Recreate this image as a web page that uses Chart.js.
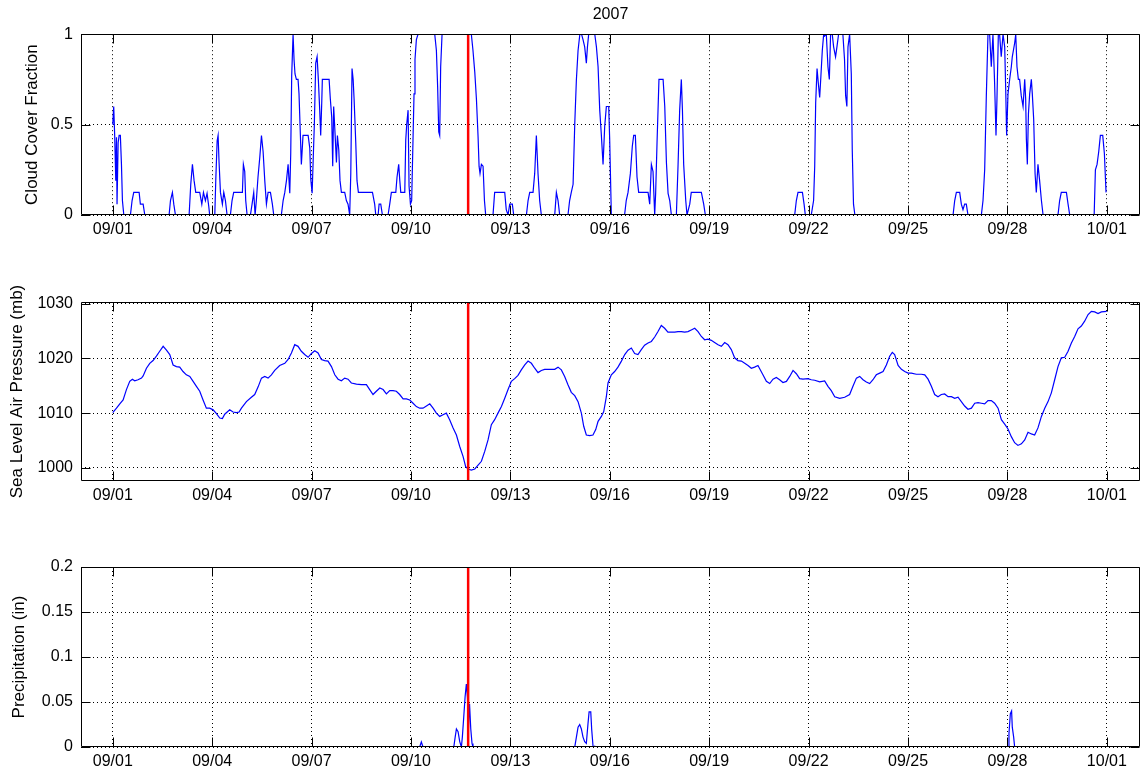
<!DOCTYPE html>
<html>
<head>
<meta charset="utf-8">
<script src="https://cdn.jsdelivr.net/npm/chart.js@4.4.0/dist/chart.umd.min.js"></script>
<style>
  html, body { margin: 0; padding: 0; background: #fff; }
  #wrap { position: relative; width: 1141px; height: 776px; overflow: hidden; }
  canvas { position: absolute; left: 0; }
</style>
</head>
<body>
<div id="wrap">
  <canvas id="cloud" width="1141" height="245" style="top:0px"></canvas>
  <canvas id="pressure" width="1141" height="249" style="top:262px"></canvas>
  <canvas id="precip" width="1141" height="249" style="top:527px"></canvas>
</div>
<script>
// hours since 09/01 00:00 (Sept 2007)
const tickHours = [0, 72, 144, 216, 288, 360, 432, 504, 576, 648, 720];
const tickLabels = ['09/01', '09/04', '09/07', '09/10', '09/13', '09/16', '09/19', '09/22', '09/25', '09/28', '10/01'];
const eventHour = 257.4; // storm marker

const cloudHours = [
  0, 0.7, 1.4, 2.2, 2.7, 3.1, 3.9, 4.6, 5.5, 6.3, 7.0, 8.0, 12.8, 14.0, 15.2, 19.1, 20.0, 22.0, 23.2,
  40.8, 41.8, 43.2, 44.2, 45.4, 55.3, 56.5, 57.7, 58.9, 60.1, 63.0, 64.5, 65.7, 67.1, 68.3, 69.5, 70.2,
  73.9, 74.6, 75.6, 76.3, 77.0, 78.0, 79.4, 80.4, 81.6, 82.8, 85.2, 86.4, 87.6, 93.9, 94.6, 95.6, 96.3, 97.3,
  99.7, 100.9, 102.1, 103.1, 104.0, 105.2, 106.5, 107.7, 108.9, 110.1, 111.3, 112.5, 114.2, 115.6, 116.6,
  122.1, 123.4, 124.6, 125.8, 127.0, 128.2, 128.9, 129.6, 130.6, 131.3, 132.0, 133.0, 134.2, 134.9, 135.9,
  136.6, 137.8, 141.5, 142.7, 143.4, 144.4, 145.1, 146.0, 147.0, 148.0, 148.9, 149.9, 150.6, 151.4, 151.8,
  156.7, 157.6, 158.6, 159.3, 160.0, 161.0, 162.0, 162.7, 163.7, 164.6, 165.6, 168.0, 169.2, 170.4, 171.6,
  172.4, 173.3, 174.1, 174.8, 176.0, 176.9, 177.9, 188.1, 189.7, 190.5, 192.2, 192.9, 194.1, 195.3,
  199.4, 200.6, 201.8, 205.0, 205.9, 207.1, 207.9, 208.6, 211.5, 212.2, 212.9, 213.9, 214.6, 215.6, 216.5,
  217.5, 218.2, 218.9, 219.9, 221.1, 233.2, 234.4, 235.3, 236.1, 236.8, 237.5, 238.5, 259.7, 260.9, 262.2,
  263.4, 264.6, 265.3, 266.0, 267.0, 268.2, 269.2, 270.1, 275.4, 276.6, 283.9, 285.0, 286.3, 287.5, 289.4,
  290.4, 299.6, 300.8, 302.0, 304.4, 305.6, 306.8, 308.0, 309.2, 310.4, 320.1, 321.3, 322.5, 323.7,
  329.7, 330.9, 332.1, 333.4, 334.6, 335.8, 337.0, 338.3, 339.5, 340.6, 341.8, 343.0, 343.8, 344.7,
  349.1, 350.3, 351.5, 352.7, 353.9, 355.1, 356.3, 357.5, 359.2, 359.9, 361.1, 370.7, 371.9, 373.2,
  374.9, 376.3, 377.3, 378.5, 379.7, 380.9, 387.7, 388.9, 390.1, 391.3, 392.5, 393.2, 394.2, 395.6,
  398.6, 399.8, 401.0, 402.2, 403.4, 404.6, 408.2, 409.4, 410.6, 411.8, 412.6, 413.5, 415.0, 415.9,
  417.9, 419.0, 426.3, 428.0, 429.2, 493.9, 495.1, 496.3, 499.5, 500.7, 501.6, 505.9, 507.6, 508.4,
  509.1, 510.1, 511.0, 512.0, 512.9, 513.9, 514.9, 515.6, 516.8, 518.0, 519.0, 519.9, 521.1, 522.1,
  523.5, 524.5, 525.7, 528.8, 530.0, 530.8, 531.7, 532.5, 533.7, 534.9, 535.6, 536.5, 537.5, 608.6,
  609.8, 611.0, 613.4, 614.6, 615.8, 617.0, 618.2, 619.4, 629.1, 630.3, 631.5, 632.7, 633.9, 635.1,
  636.3, 637.5, 638.7, 639.7, 640.4, 641.4, 642.3, 643.5, 644.8, 646.0, 646.7, 647.4, 648.4, 649.6,
  650.8, 651.5, 653.2, 654.0, 654.9, 655.9, 656.8, 658.0, 659.3, 660.5, 661.2, 661.7, 662.4, 663.2,
  664.1, 665.3, 666.0, 667.0, 668.0, 668.9, 670.1, 671.3, 672.6, 673.8, 684.6, 685.8, 687.0, 690.7,
  691.9, 693.1, 710.8, 711.7, 712.9, 714.1, 715.3, 717.0, 718.2, 719.4, 720.0
];
const cloudFraction = [
  0.5, 0.6, 0.44, 0.19, 0.43, 0.06, 0.4, 0.44, 0.44, 0.28, 0.08, 0, 0, 0.08, 0.125, 0.125, 0.06, 0.06, 0,
  0, 0.08, 0.125, 0.06, 0, 0, 0.17, 0.28, 0.19, 0.125, 0.125, 0.06, 0.125, 0.08, 0.12, 0.05, 0,
  0, 0.19, 0.41, 0.44, 0.29, 0.125, 0.06, 0.125, 0.08, 0, 0, 0.08, 0.125, 0.125, 0.28, 0.24, 0.08, 0,
  0, 0.06, 0.125, 0, 0.08, 0.21, 0.32, 0.44, 0.35, 0.19, 0.06, 0.125, 0.125, 0.06, 0,
  0, 0.08, 0.125, 0.19, 0.28, 0.12, 0.34, 0.77, 1, 0.86, 0.78, 0.75, 0.75, 0.67, 0.44,
  0.28, 0.44, 0.44, 0.37, 0.2, 0.12, 0.29, 0.5, 0.84, 0.875, 0.75, 0.58, 0.44, 0.63, 0.75,
  0.75, 0.64, 0.54, 0.27, 0.6, 0.45, 0.29, 0.44, 0.36, 0.19, 0.125, 0.125, 0.08, 0.06, 0,
  0.23, 0.81, 0.75, 0.64, 0.4, 0.19, 0.125, 0.125, 0.06, 0, 0, 0.06, 0.06, 0,
  0, 0.06, 0.125, 0.125, 0.21, 0.28, 0.19, 0.125, 0.125, 0.415, 0.5, 0.58, 0.16, 0.06, 0.08,
  0.43, 0.67, 0.86, 0.97, 1, 1, 0.91, 0.71, 0.46, 0.44, 0.82, 1, 1, 0.91, 0.79,
  0.64, 0.43, 0.27, 0.23, 0.28, 0.27, 0.08, 0, 0, 0.125, 0.125, 0.03, 0, 0.06, 0.06,
  0, 0, 0.08, 0.125, 0.125, 0.23, 0.44, 0.23, 0.08, 0, 0, 0.125, 0.08, 0,
  0, 0.08, 0.125, 0.17, 0.5, 0.75, 0.91, 1, 1, 0.97, 0.93, 0.84, 0.93, 1,
  1, 0.93, 0.82, 0.58, 0.44, 0.28, 0.49, 0.6, 0.6, 0.42, 0, 0, 0.08, 0.125,
  0.23, 0.38, 0.44, 0.44, 0.21, 0.125, 0.125, 0.06, 0.28, 0.24, 0, 0.12, 0.4, 0.75,
  0.75, 0.6, 0.29, 0.12, 0.08, 0, 0, 0.27, 0.58, 0.75, 0.58, 0.28, 0.08, 0,
  0.06, 0.125, 0.125, 0.06, 0, 0, 0.08, 0.125, 0.125, 0.06, 0, 0, 0.08, 0.27,
  0.62, 0.81, 0.73, 0.65, 0.77, 0.91, 1, 0.99, 1, 0.82, 0.75, 1, 1, 0.93,
  0.875, 0.93, 1, 1, 0.86, 0.66, 0.6, 0.93, 1, 0.78, 0.36, 0.06, 0, 0,
  0.08, 0.125, 0.125, 0.06, 0.03, 0.06, 0.06, 0, 0, 0.08, 0.25, 0.66, 1, 1,
  0.82, 1, 0.73, 0.44, 0.64, 1, 1, 0.875, 1, 0.93, 0.71, 0.44, 0.67, 0.75,
  0.82, 0.875, 0.95, 1, 0.82, 0.75, 0.75, 0.66, 0.6, 0.75, 0.64, 0.42, 0.28, 0.56,
  0.67, 0.75, 0.67, 0.53, 0.23, 0.125, 0.28, 0.19, 0.08, 0, 0, 0.08, 0.125, 0.125,
  0.06, 0, 0, 0.25, 0.28, 0.35, 0.44, 0.44, 0.34, 0.125, 0.125
];

const pressureHours = [
  0, 2.7, 5.1, 7.5, 9.9, 12.3, 14.2, 15.9, 18.3, 20.8, 22.0, 24.4, 26.8, 29.2, 31.6, 34.0, 36.5, 38.9,
  41.3, 43.7, 46.1, 48.5, 50.9, 53.3, 55.8, 58.2, 60.6, 63.0, 65.4, 67.8, 70.2, 72.7, 75.1, 77.5, 79.4,
  81.1, 84.7, 87.1, 89.6, 91.5, 93.2, 96.8, 100.4, 102.8, 105.3, 107.7, 110.1, 112.5, 114.9, 117.3,
  120.9, 124.6, 127.0, 129.4, 131.8, 134.2, 136.6, 139.0, 141.5, 143.9, 146.3, 148.7, 151.1, 153.5,
  155.9, 158.4, 160.8, 163.2, 165.6, 168.0, 170.4, 172.8, 176.5, 180.1, 183.7, 186.1, 188.5, 190.9,
  193.4, 195.8, 198.2, 200.6, 203.0, 205.4, 207.8, 210.3, 212.7, 215.1, 217.5, 219.9, 222.3, 224.7,
  227.2, 229.6, 232.0, 234.4, 236.8, 239.2, 241.6, 244.0, 246.5, 248.9, 251.3, 253.7, 255.6, 257.3,
  259.7, 262.2, 264.6, 267.0, 269.4, 271.8, 274.2, 276.6, 279.0, 281.5, 283.9, 286.3, 288.7, 291.1,
  293.5, 295.9, 298.4, 300.8, 303.2, 305.6, 308.0, 310.4, 312.8, 315.2, 317.7, 320.1, 322.5, 324.9,
  327.3, 329.7, 332.1, 334.6, 337.0, 339.4, 341.1, 343.0, 345.4, 347.8, 349.8, 351.5, 353.9, 355.6,
  357.5, 358.7, 361.1, 363.5, 365.9, 368.4, 370.8, 373.2, 375.6, 378.0, 380.4, 382.8, 385.2, 387.7,
  390.1, 392.5, 394.9, 397.3, 399.7, 402.1, 404.6, 407.0, 409.4, 411.8, 414.2, 416.6, 419.0, 421.5,
  423.9, 426.3, 428.7, 431.1, 433.5, 435.9, 438.4, 440.8, 443.2, 445.6, 448.0, 450.4, 452.8, 455.3,
  457.7, 460.1, 462.5, 464.9, 467.3, 470.9, 473.4, 475.8, 478.2, 480.6, 483.0, 485.4, 487.9, 490.3,
  492.7, 495.1, 497.5, 499.9, 503.5, 505.9, 508.4, 512.0, 515.6, 518.0, 520.4, 522.9, 526.5, 530.1,
  533.7, 536.1, 538.6, 541.0, 543.4, 545.8, 548.2, 550.6, 553.0, 555.5, 557.9, 560.3, 562.7, 564.6,
  566.3, 568.8, 571.2, 573.6, 576.0, 578.4, 582.0, 585.6, 588.1, 590.5, 592.9, 595.3, 597.7, 600.1,
  602.5, 605.0, 607.4, 609.8, 612.2, 614.6, 617.0, 619.4, 621.9, 624.3, 626.7, 629.1, 631.5, 633.9,
  636.3, 638.7, 641.2, 643.6, 646.0, 648.4, 650.8, 653.2, 655.6, 658.1, 660.5, 662.9, 665.3, 667.7,
  670.1, 672.6, 675.0, 677.4, 679.8, 682.2, 684.6, 687.0, 689.5, 691.9, 694.3, 696.7, 699.1, 701.5,
  703.9, 706.4, 708.8, 711.2, 713.6, 716.0, 719.9
];
const pressureMb = [
  1010.1, 1010.9, 1011.7, 1012.4, 1014.3, 1015.8, 1016.2, 1015.9, 1016.1, 1016.4, 1016.8, 1018.2, 1019.1, 1019.6, 1020.4, 1021.3, 1022.2, 1021.5,
  1020.7, 1018.8, 1018.5, 1018.4, 1017.6, 1017.0, 1016.7, 1015.8, 1014.9, 1014.0, 1012.4, 1010.9, 1010.9, 1010.6, 1009.9, 1009.1, 1009.0,
  1009.8, 1010.6, 1010.2, 1010.1, 1010.2, 1010.9, 1012.1, 1012.9, 1013.4, 1014.8, 1016.4, 1016.7, 1016.4, 1017.0, 1017.8,
  1018.7, 1019.1, 1019.8, 1021.0, 1022.5, 1022.2, 1021.3, 1020.7, 1020.2, 1020.9, 1021.4, 1021.0, 1019.8, 1019.6,
  1019.5, 1018.5, 1017.0, 1016.2, 1015.9, 1016.4, 1016.2, 1015.5, 1015.3, 1015.2, 1015.2, 1014.3, 1013.4, 1014.0,
  1014.6, 1014.3, 1013.5, 1014.1, 1014.1, 1014.0, 1013.4, 1012.6, 1012.6, 1012.4, 1011.8, 1011.2, 1010.9, 1010.9,
  1011.3, 1011.7, 1010.9, 1010.0, 1009.4, 1009.7, 1010.0, 1008.8, 1007.3, 1006.0, 1003.9, 1002.1, 1000.2, 999.8,
  999.6, 999.8, 1000.5, 1001.2, 1003.0, 1005.1, 1007.9, 1008.8, 1010.0, 1011.2, 1012.7, 1014.3, 1015.8, 1016.3,
  1016.9, 1017.9, 1018.8, 1019.5, 1019.1, 1018.2, 1017.4, 1017.8, 1018.0, 1018.0, 1018.0, 1018.0, 1018.4, 1017.9,
  1016.7, 1015.2, 1013.8, 1013.2, 1012.1, 1010.0, 1007.6, 1006.0, 1005.9, 1006.0, 1007.0, 1008.5, 1009.4, 1010.3,
  1013.0, 1015.5, 1017.0, 1017.6, 1018.4, 1019.5, 1020.7, 1021.5, 1021.9, 1020.9, 1020.7, 1021.6, 1022.4, 1022.8,
  1023.1, 1023.9, 1024.9, 1026.0, 1025.5, 1024.8, 1024.8, 1024.8, 1024.9, 1024.9, 1024.8, 1024.9, 1025.2, 1025.5,
  1024.9, 1024.0, 1023.4, 1023.5, 1023.3, 1022.9, 1022.5, 1022.2, 1022.9, 1022.5, 1021.6, 1020.1, 1019.6, 1019.5,
  1019.1, 1018.7, 1018.2, 1018.4, 1018.7, 1017.0, 1015.8, 1015.4, 1016.2, 1016.5, 1016.1, 1015.6, 1015.8, 1016.7,
  1017.8, 1017.2, 1016.3, 1016.2, 1016.3, 1016.1, 1016.0, 1015.7, 1015.9, 1014.9, 1014.1, 1013.0, 1012.7, 1012.9,
  1013.4, 1014.9, 1016.4, 1016.7, 1016.1, 1015.7, 1015.4, 1016.1, 1017.0, 1017.3, 1017.6, 1018.8, 1020.4, 1021.1,
  1020.7, 1018.7, 1018.0, 1017.6, 1017.3, 1017.3, 1017.1, 1017.1, 1017.0, 1016.2, 1014.9, 1013.4, 1013.0, 1013.4,
  1013.5, 1013.0, 1013.0, 1012.7, 1012.9, 1012.1, 1011.3, 1010.7, 1010.9, 1011.8, 1011.9, 1011.8, 1011.7, 1012.3,
  1012.3, 1011.8, 1010.9, 1008.8, 1008.0, 1007.1, 1005.7, 1004.6, 1004.1, 1004.4, 1005.1, 1006.5, 1006.2, 1006.0,
  1007.3, 1009.4, 1010.9, 1012.1, 1013.7, 1016.1, 1018.5, 1020.1, 1020.2, 1021.3, 1022.8, 1024.0, 1025.4, 1025.9,
  1026.8, 1028.0, 1028.6, 1028.5, 1028.2, 1028.5, 1028.6
];

const precipHours = [
  0, 222.3, 223.5, 224.7, 247.0, 248.0, 248.9, 250.1, 251.3, 252.5, 253.2, 254.2, 255.2, 256.1, 256.9,
  257.6, 258.4, 259.3, 260.2, 260.9, 334.6, 335.8, 337.0, 338.2, 339.4, 340.6, 341.8, 343.0, 344.2,
  345.0, 346.2, 346.9, 347.9, 349.1, 350.0, 648.4, 649.1, 650.1, 651.0, 651.5, 652.5, 653.2, 720
];
const precipInches = [
  0, 0, 0.0056, 0, 0, 0.011, 0.02, 0.017, 0.006, 0, 0.011, 0.033, 0.056, 0.07, 0.055,
  0.02, 0.048, 0.02, 0.004, 0, 0, 0.011, 0.022, 0.025, 0.02, 0.011, 0.006, 0.004, 0.026,
  0.039, 0.039, 0.019, 0, 0.001, 0, 0, 0.015, 0.037, 0.04, 0.022, 0.011, 0, 0
];

const cloudTicks = [0, 0.5, 1];
const pressureTicks = [1000, 1010, 1020, 1030];
const precipTicks = [0, 0.05, 0.1, 0.15, 0.2];

Chart.defaults.font.family = '"Liberation Sans", Arial, Helvetica, sans-serif';
Chart.defaults.font.size = 16;
Chart.defaults.color = '#000';

function toPoints(xs, ys) {
  return xs.map((x, i) => ({ x: x, y: ys[i] }));
}

// axes box with MATLAB-style inward ticks, drawn over the data
const axesBox = {
  id: 'axesBox',
  afterDatasetsDraw(chart) {
    const { ctx, chartArea: a, scales } = chart;
    const L = Math.round(a.left) + 0.5, R = Math.round(a.right) - 0.5;
    const T = Math.round(a.top) + 0.5, B = Math.round(a.bottom) - 0.5;
    const len = 9;
    ctx.save();
    ctx.strokeStyle = '#000';
    ctx.lineWidth = 1;
    ctx.setLineDash([]);
    ctx.beginPath();
    ctx.rect(L, T, R - L, B - T);
    scales.x.ticks.forEach(t => {
      const px = Math.round(scales.x.getPixelForValue(t.value)) + 0.5;
      ctx.moveTo(px, B); ctx.lineTo(px, B - len);
      ctx.moveTo(px, T); ctx.lineTo(px, T + len);
    });
    scales.y.ticks.forEach(t => {
      const py = Math.round(scales.y.getPixelForValue(t.value)) + 0.5;
      ctx.moveTo(L, py); ctx.lineTo(L + len, py);
      ctx.moveTo(R, py); ctx.lineTo(R - len, py);
    });
    ctx.stroke();
    ctx.restore();
  }
};

function makeChart(id, cfg) {
  const datasets = [
    {
      data: [{ x: eventHour, y: cfg.yMin }, { x: eventHour, y: cfg.yMax }],
      borderColor: '#ff0000', borderWidth: 2.5, pointRadius: 0, order: 0
    },
    {
      data: toPoints(cfg.xs, cfg.ys),
      borderColor: '#0000ff', borderWidth: 1.2, pointRadius: 0, tension: 0, order: 1
    }
  ];
  return new Chart(document.getElementById(id), {
    type: 'line',
    data: { datasets: datasets },
    options: {
      responsive: false,
      animation: false,
      events: [],
      layout: { padding: { top: cfg.padTop, right: 1, left: 0, bottom: 0 } },
      plugins: {
        legend: { display: false },
        tooltip: { enabled: false },
        title: cfg.title ? {
          display: true, text: cfg.title, fullSize: false, color: '#000',
          font: { size: 16, weight: 'normal' }, padding: { top: 5, bottom: 10 }
        } : { display: false }
      },
      scales: {
        x: {
          type: 'linear', min: -23, max: 744,
          afterBuildTicks: s => { s.ticks = tickHours.map(v => ({ value: v })); },
          afterFit: s => { s.height = cfg.xHeight; },
          ticks: { callback: (v, i) => tickLabels[i], padding: 5, maxRotation: 0, autoSkip: false },
          grid: { color: '#000', lineWidth: 1, drawTicks: false },
          border: { display: false, dash: [1, 3] }
        },
        y: {
          type: 'linear', min: cfg.yMin, max: cfg.yMax,
          afterBuildTicks: s => { s.ticks = cfg.yTicks.map(v => ({ value: v })); },
          afterFit: s => { s.width = 81; },
          ticks: { callback: v => String(v), padding: 8 },
          grid: { color: '#000', lineWidth: 1, drawTicks: false },
          border: { display: false, dash: [1, 3] },
          title: {
            display: true, text: cfg.yTitle, color: '#000',
            font: { size: 17 }, padding: { top: cfg.titlePad, bottom: 0 }
          }
        }
      }
    },
    plugins: [axesBox]
  });
}

makeChart('cloud', {
  xs: cloudHours, ys: cloudFraction, yMin: 0, yMax: 1, yTicks: cloudTicks,
  yTitle: 'Cloud Cover Fraction', titlePad: 22, padTop: 0, xHeight: 30, title: '2007'
});
makeChart('pressure', {
  xs: pressureHours, ys: pressureMb, yMin: 997.6, yMax: 1030.3, yTicks: pressureTicks,
  yTitle: 'Sea Level Air Pressure (mb)', titlePad: 7, padTop: 40, xHeight: 30
});
makeChart('precip', {
  xs: precipHours, ys: precipInches, yMin: 0, yMax: 0.2, yTicks: precipTicks,
  yTitle: 'Precipitation (in)', titlePad: 9, padTop: 40, xHeight: 29
});
</script>
</body>
</html>
